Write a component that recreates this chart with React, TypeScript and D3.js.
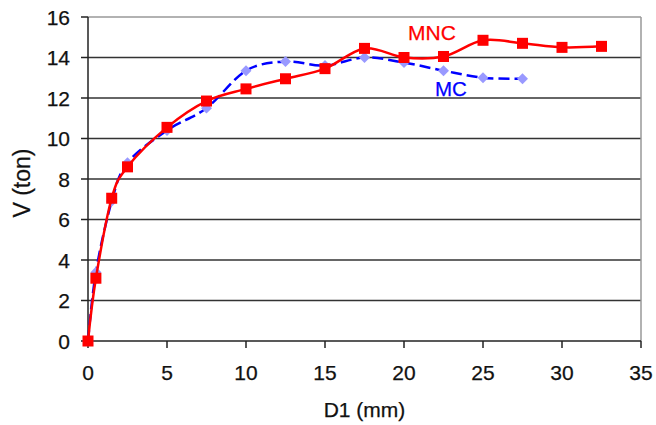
import React from "react";
import * as d3 from "d3";

const mncX = [0, 0.5, 1.5, 2.5, 5, 7.5, 10, 12.5, 15, 17.5, 20, 22.5, 25, 27.5, 30, 32.5];
const mncY = [0, 3.1, 7.05, 8.6, 10.55, 11.85, 12.45, 12.95, 13.45, 14.45, 14.0, 14.05, 14.85, 14.7, 14.5, 14.55];
const mcX = [0, 0.5, 1.5, 2.5, 5, 7.5, 10, 12.5, 15, 17.5, 20, 22.5, 25, 27.5];
const mcY = [0, 3.4, 6.9, 8.8, 10.4, 11.5, 13.35, 13.8, 13.6, 14.0, 13.75, 13.35, 13.0, 12.95];
const xTicks = [0, 5, 10, 15, 20, 25, 30, 35];
const yTicks = [0, 2, 4, 6, 8, 10, 12, 14, 16];
const seriesNames = ["MNC", "MC"];
const xTitle = "D1 (mm)";
const yTitle = "V (ton)";

const W = 656, H = 425;
const L = 88, R = 641, T = 17, B = 341;
const FONT = "Arial, 'Liberation Sans', sans-serif";

export default function App() {
  const x = d3.scaleLinear().domain([0, 35]).range([L, R]);
  const y = d3.scaleLinear().domain([0, 16]).range([B, T]);
  const curve = d3.curveCatmullRom.alpha(0);
  const line = d3.line<[number, number]>().x(d => x(d[0])).y(d => y(d[1])).curve(curve);
  const mnc: [number, number][] = mncX.map((v, i) => [v, mncY[i]]);
  const mc: [number, number][] = mcX.map((v, i) => [v, mcY[i]]);
  const diamond = d3.symbol().type(d3.symbolSquare).size(60)() as string;
  const txt = { fontSize: 21, fill: "#111", stroke: "#111", strokeWidth: 0.25 };
  return (
    <svg width={W} height={H} style={{ position: "absolute", left: 0, top: 0, background: "#fff" }} fontFamily={FONT}>
      <rect x={0} y={0} width={W} height={H} fill="#fff" />
      {yTicks.filter(t => t > 0 && t < 16).map(t => (
        <line key={"g" + t} x1={L} x2={R} y1={y(t)} y2={y(t)} stroke="#333" strokeWidth={1.5} />
      ))}
      <line x1={L} x2={R} y1={T} y2={T} stroke="#999" strokeWidth={1.5} />
      <line x1={R} x2={R} y1={T} y2={B} stroke="#999" strokeWidth={1.5} />
      <line x1={L} x2={L} y1={T} y2={B} stroke="#222" strokeWidth={1.5} />
      <line x1={L} x2={R} y1={B} y2={B} stroke="#222" strokeWidth={1.5} />
      {yTicks.map(t => (
        <g key={"y" + t}>
          <line x1={L - 7} x2={L} y1={y(t)} y2={y(t)} stroke="#222" strokeWidth={1.5} />
          <text x={70} y={y(t)} dy="0.36em" textAnchor="end" {...txt}>{t}</text>
        </g>
      ))}
      {xTicks.map(t => (
        <g key={"x" + t}>
          <line x1={x(t)} x2={x(t)} y1={B} y2={B + 7} stroke="#222" strokeWidth={1.5} />
          <text x={x(t)} y={380} textAnchor="middle" {...txt}>{t}</text>
        </g>
      ))}
      <text x={(L + R) / 2} y={417} textAnchor="middle" {...txt}>{xTitle}</text>
      <text transform={`translate(30,183) rotate(-90)`} textAnchor="middle" {...txt} fontSize={23}>{yTitle}</text>

      <path d={line(mc) || ""} fill="none" stroke="#0000ff" strokeWidth={2.5} strokeDasharray="11,5" />
      {mc.map((d, i) => (
        <path key={"d" + i} d={diamond} transform={`translate(${x(d[0])},${y(d[1])}) rotate(45)`} fill="#9999ff" />
      ))}
      <path d={line(mnc) || ""} fill="none" stroke="#ff0000" strokeWidth={2.5} />
      {mnc.map((d, i) => (
        <rect key={"s" + i} x={x(d[0]) - 5.5} y={y(d[1]) - 5.5} width={11} height={11} fill="#ff0000" />
      ))}
      <text x={408} y={40} fontSize={21} fill="#ff0000" stroke="#ff0000" strokeWidth={0.25}>{seriesNames[0]}</text>
      <text x={435} y={96} fontSize={20.5} fill="#0000ff" stroke="#0000ff" strokeWidth={0.25}>{seriesNames[1]}</text>
    </svg>
  );
}
